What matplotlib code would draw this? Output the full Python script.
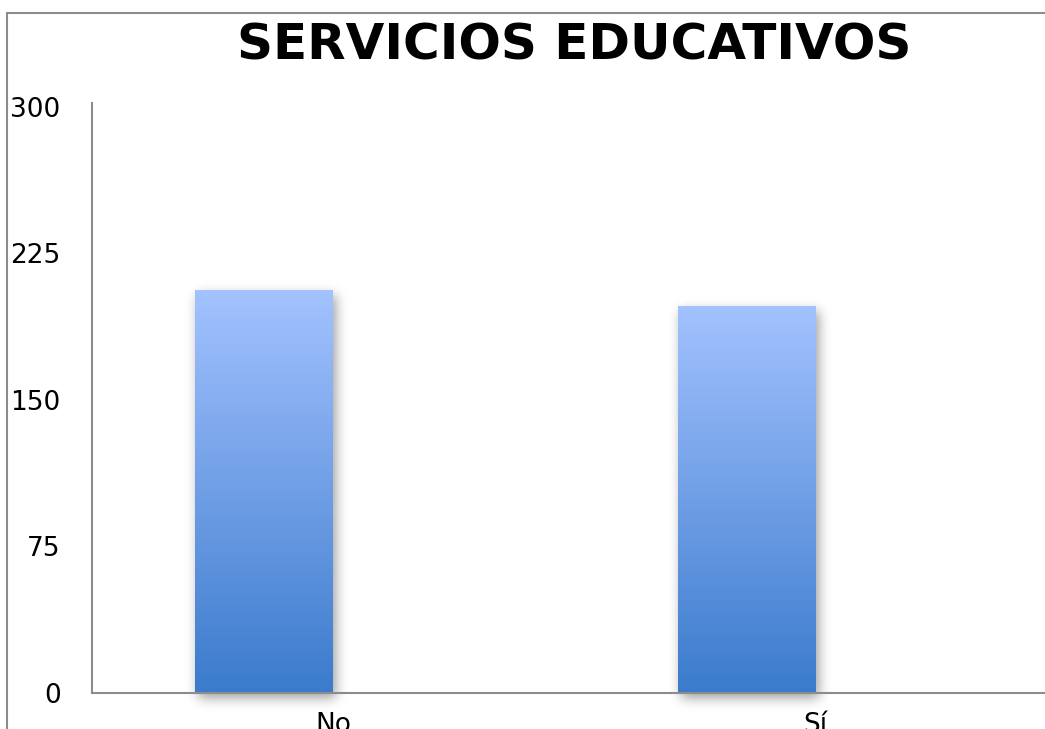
import numpy as np
import matplotlib
matplotlib.use("Agg")
from matplotlib import pyplot as plt
from matplotlib.colors import LinearSegmentedColormap
from matplotlib.patches import Rectangle

# Datos del gráfico
categorias = ["No", "Sí"]
valores = [206, 198]
ticks_y = [0, 75, 150, 225, 300]

titulo = "SERVICIOS EDUCATIVOS"
gris = "#8c8c8c"
ancho_barra = 0.286

# Degradado azul de la barra (abajo oscuro, arriba claro)
degradado = LinearSegmentedColormap.from_list("azul", ["#3b7bcc", "#a3c2ff"])


def desenfocar(m, sigma):
    # desenfoque gaussiano separable
    r = int(3 * sigma)
    k = np.exp(-0.5 * (np.arange(-r, r + 1) / sigma) ** 2)
    k /= k.sum()
    m = np.apply_along_axis(lambda f: np.convolve(f, k, mode="same"), 0, m)
    m = np.apply_along_axis(lambda f: np.convolve(f, k, mode="same"), 1, m)
    return m


fig = plt.figure(figsize=(10.45, 7.29), dpi=100)
W, H = 1045, 729

# Marco del gráfico (solo se ven los bordes superior e izquierdo)
fig.patches.append(Rectangle((7 / W, -0.1), 1.2, 1 - 13 / H + 0.1,
                             transform=fig.transFigure, fill=False,
                             edgecolor=gris, linewidth=1.5))

ax = fig.add_axes([92 / W, 1 - 693 / H, 965 / W, 590 / H])
ymax = 302
ax.set_xlim(-0.5, 1.5)
ax.set_ylim(0, ymax)

# escala de píxeles por unidad de datos
px_x = 965 / 2.0
px_y = 590 / ymax

x = np.arange(len(categorias))
for xi, v in zip(x, valores):
    x0, x1 = xi - ancho_barra, xi
    # sombra difusa desplazada hacia abajo y a la derecha
    m = 24
    wb = int(round((x1 - x0) * px_x))
    hb = int(round(v * px_y))
    mask = np.zeros((hb + 2 * m, wb + 2 * m))
    dx, dy = 3, 5
    mask[m - dy:m - dy + hb, m + dx:m + dx + wb] = 1.0
    alfa = desenfocar(mask, 6.0) * 0.38
    rgba = np.zeros(mask.shape + (4,))
    rgba[..., 3] = alfa
    ax.imshow(rgba, extent=[x0 - m / px_x, x1 + m / px_x,
                            -m / px_y, v + m / px_y],
              origin="lower", aspect="auto", zorder=1, clip_on=False,
              interpolation="bilinear")
    grad = np.linspace(0, 1, 256).reshape(-1, 1)
    ax.imshow(grad, extent=[x0, x1, 0, v], origin="lower", aspect="auto",
              cmap=degradado, zorder=2)

ax.set_xlim(-0.5, 1.5)
ax.set_ylim(0, ymax)

for lado in ["top", "right"]:
    ax.spines[lado].set_visible(False)
for lado in ["left", "bottom"]:
    ax.spines[lado].set_color(gris)
    ax.spines[lado].set_linewidth(1.5)
    ax.spines[lado].set_zorder(3)

ax.set_yticks(ticks_y)
ax.set_yticklabels([str(t) for t in ticks_y], fontsize=19)
ax.tick_params(axis="y", length=0, pad=22.5)
ax.set_xticks(x)
ax.set_xticklabels(categorias, fontsize=19)
ax.tick_params(axis="x", length=0, pad=14)

fig.text(574 / W, 1 - 46 / H, titulo, ha="center", va="center",
         fontsize=36, fontweight="bold")

fig.savefig("out.png", dpi=100)
